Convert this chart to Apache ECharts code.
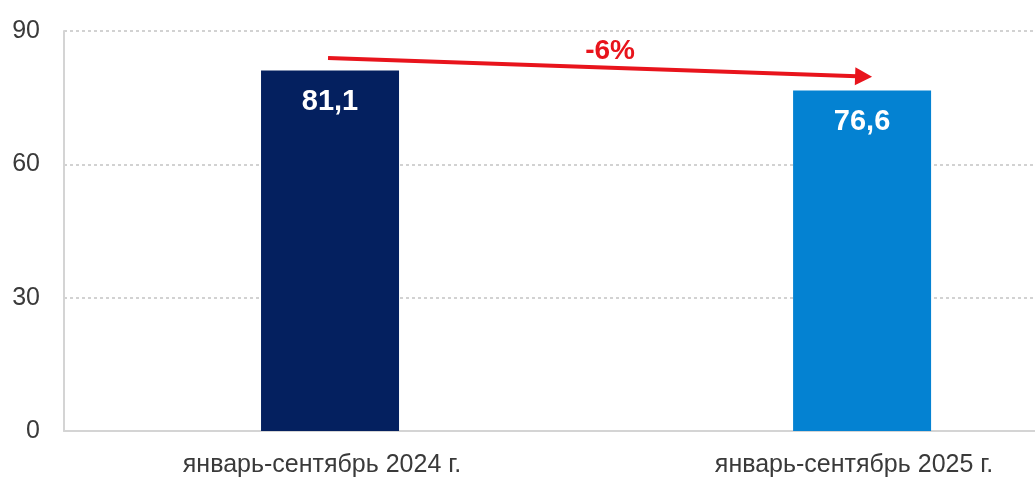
<!DOCTYPE html>
<html><head><meta charset="utf-8">
<script src="https://cdn.jsdelivr.net/npm/echarts@6/dist/echarts.min.js"></script>
<style>html,body{margin:0;padding:0;background:#fff}#c{width:1035px;height:478px}</style>
</head><body><div id="c"></div>
<script>
const categories = ['январь-сентябрь 2024 г.', 'январь-сентябрь 2025 г.'];
const values = [81.1, 76.6];
const barColors = ['#04205f', '#0482d2'];
const yTicks = [0, 30, 60, 90];
const changeLabel = '-6%';
// arrow annotation (value-axis levels at start / end)
const arrowLevels = [83.9, 79.7];

const FONT = 'Liberation Sans, Arial, sans-serif';
const chart = echarts.init(document.getElementById('c'), null, {renderer: 'canvas'});
const fmt = v => v.toFixed(1).replace('.', ',');
const idx = categories.map((c, i) => i);
chart.setOption({
  animation: false,
  grid: {left: 64, top: 31, right: 0, bottom: 46, containLabel: false},
  xAxis: {
    type: 'value', min: -0.5, max: 1.325,
    splitLine: {show: false},
    axisLine: {onZero: false, lineStyle: {color: '#d4d4d4', width: 2}},
    axisTick: {show: false},
    axisLabel: {customValues: idx, formatter: v => categories[Math.round(v)] || '',
      fontSize: 25, color: '#3a3a3a', fontFamily: FONT, margin: 22, padding: [0, 16, 0, 0]}
  },
  yAxis: {
    type: 'value', min: yTicks[0], max: yTicks[yTicks.length - 1], interval: 30,
    axisLine: {show: true, onZero: false, lineStyle: {color: '#d4d4d4', width: 2}},
    axisTick: {show: false},
    axisLabel: {fontSize: 25, color: '#3a3a3a', fontFamily: FONT, margin: 24},
    splitLine: {lineStyle: {color: '#c4c4c4', type: [3, 3], width: 1.5}}
  },
  series: [{
    type: 'bar', barWidth: 138,
    data: values.map((v, i) => ({value: [i, v], itemStyle: {color: barColors[i]}})),
    label: {show: true, position: 'insideTop', distance: 17, color: '#ffffff', fontWeight: 'bold', fontSize: 29,
      fontFamily: FONT, formatter: p => fmt(p.value[1])}
  }]
});
const p0 = chart.convertToPixel({seriesIndex: 0}, [0, arrowLevels[0]]);
const p1 = chart.convertToPixel({seriesIndex: 0}, [1, arrowLevels[1]]);
const x0 = p0[0] - 2, y0 = p0[1], xt = p1[0] + 10, yt = p1[1];
const ang = Math.atan2(yt - y0, xt - x0);
const hl = 17, hw = 9;
const bx = xt - hl * Math.cos(ang), by = yt - hl * Math.sin(ang);
const nx = -Math.sin(ang), ny = Math.cos(ang);
chart.setOption({
  graphic: [
    {type: 'line', silent: true, shape: {x1: x0, y1: y0, x2: bx + 2 * Math.cos(ang), y2: by + 2 * Math.sin(ang)},
      style: {stroke: '#e8141c', lineWidth: 4}},
    {type: 'polygon', silent: true, shape: {points: [[xt, yt], [bx + nx * hw, by + ny * hw], [bx - nx * hw, by - ny * hw]]},
      style: {fill: '#e8141c'}},
    {type: 'text', silent: true, x: (p0[0] + p1[0]) / 2 + 14, y: (p0[1] + p1[1]) / 2 - 16,
      style: {text: changeLabel, fill: '#e8141c', font: 'bold 28px ' + FONT, align: 'center', verticalAlign: 'middle'}}
  ]
});
</script></body></html>
